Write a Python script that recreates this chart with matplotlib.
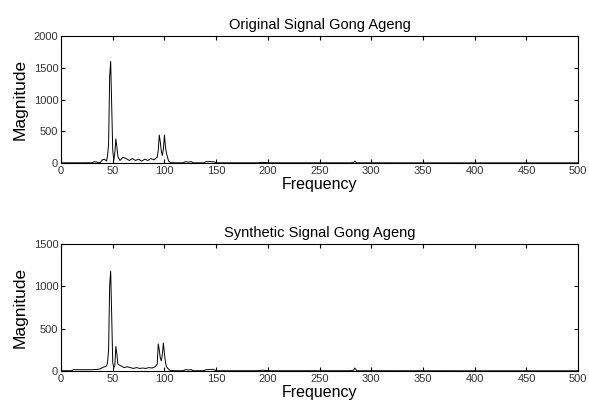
import numpy as np
import matplotlib
matplotlib.use("Agg")
import matplotlib.pyplot as plt

# spectrum (frequency, magnitude)
orig_freq = [0, 10, 20, 30, 32, 34, 36, 38, 40, 42, 44, 45, 46, 47, 48, 49, 50, 51, 52, 53,
             54, 55, 57, 60, 63, 66, 69, 72, 75, 78, 81, 84, 87, 90, 92, 93, 94, 95, 96, 97,
             98, 99, 100, 101, 102, 104, 106, 110, 118, 120, 123, 126, 128, 138, 140, 144, 148,
             150, 190, 195, 200, 280, 283, 284, 286, 300, 400, 500]
orig_mag = [3, 3, 3, 4, 20, 18, 6, 10, 50, 60, 30, 120, 300, 1350, 1600, 900, 200, 40, 150, 380,
            250, 100, 40, 90, 70, 40, 70, 40, 60, 30, 60, 40, 70, 50, 80, 90, 200, 440, 330, 180,
            120, 220, 440, 250, 150, 30, 5, 3, 3, 20, 15, 20, 3, 3, 20, 22, 18, 3, 3, 10, 3, 3,
            10, 30, 3, 3, 2, 2]

syn_freq = [0, 10, 12, 20, 30, 35, 38, 40, 42, 44, 45, 46, 47, 48, 49, 50, 51, 52, 53, 54,
            55, 58, 61, 64, 67, 70, 73, 76, 79, 82, 85, 88, 91, 93, 94, 95, 96, 97, 98, 99,
            100, 101, 102, 104, 106, 110, 118, 120, 123, 126, 128, 138, 140, 144, 147, 150, 190,
            195, 200, 280, 283, 284, 286, 300, 400, 500]
syn_mag = [3, 3, 15, 15, 15, 18, 25, 40, 50, 60, 100, 250, 1000, 1180, 650, 100, 40, 60, 290, 200,
           80, 60, 40, 50, 40, 30, 40, 30, 35, 30, 40, 35, 50, 80, 320, 250, 150, 120, 200, 330,
           200, 100, 50, 20, 5, 3, 3, 15, 12, 15, 3, 3, 15, 18, 20, 3, 3, 10, 3, 3, 10, 35, 3, 3,
           2, 2]

titles = ["Original Signal Gong Ageng", "Synthetic Signal Gong Ageng"]
ymax = [2000, 1500]
yticks = [[0, 500, 1000, 1500, 2000], [0, 500, 1000, 1500]]
xticks = list(range(0, 501, 50))

plt.rcParams['font.family'] = ['Liberation Sans', 'DejaVu Sans']

fig = plt.figure(figsize=(5.89, 4.07), dpi=100)
ax1 = fig.add_axes([0.1036, 0.5995, 0.878, 0.312])
ax2 = fig.add_axes([0.1036, 0.0885, 0.878, 0.312])

for ax, f, m, t, ym, yt in zip([ax1, ax2], [orig_freq, syn_freq], [orig_mag, syn_mag],
                               titles, ymax, yticks):
    ax.plot(f, m, color='black', lw=0.7)
    ax.set_xlim(0, 500)
    ax.set_ylim(0, ym)
    ax.set_xticks(xticks)
    ax.set_yticks(yt)
    ax.tick_params(direction='in', top=True, right=True, length=3, labelsize=8,
                   labelcolor='#333333', pad=2)
    ax.set_title(t, fontsize=10.5, pad=5)
    ax.set_xlabel('Frequency', fontsize=11.5, labelpad=1)
    ax.set_ylabel('Magnitude', fontsize=12.5, labelpad=4)
    for s in ax.spines.values():
        s.set_linewidth(0.8)

fig.savefig('out.png', dpi=100)
